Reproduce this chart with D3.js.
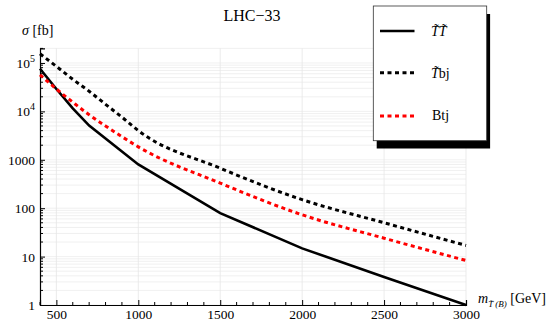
<!DOCTYPE html>
<html>
<head>
<meta charset="utf-8">
<script src="https://cdn.jsdelivr.net/npm/d3@7"></script>
<style>
  body { margin: 0; background: #fff; }
  svg text { font-family: "Liberation Serif", "DejaVu Serif", serif; }
</style>
</head>
<body>
<svg id="chart" width="548" height="324"></svg>
<script>
// masses (GeV) and cross sections (fb)
const massTT = [400, 500, 600, 700, 1000, 1500, 2000, 2500, 3000];
const sigmaTT = [76000, 29000, 11500, 5100, 800, 79, 14.8, 3.8, 1.0];

const massSingle = [400, 500, 600, 700, 800, 900, 1000, 1500, 2000, 2500, 3000];
const sigmaTbj = [155000, 85000, 46000, 26000, 14000, 7600, 4000, 670, 150, 50, 17];
const sigmaBtj = [57000, 29000, 15500, 8500, 5000, 3000, 1850, 330, 73, 24, 8.3];

const xTicks = [500, 1000, 1500, 2000, 2500, 3000];
const yTicks = [1, 10, 100, 1000, 1e4, 1e5];

const svg = d3.select("#chart");
const plotLeft = 40, plotRight = 466, plotTop = 48.4, plotBottom = 305;

const x = d3.scaleLinear().domain([400, 3000]).range([plotLeft, plotRight]);
const y = d3.scaleLog().domain([1, 2e5]).range([plotBottom, plotTop]);

// grid
const grid = svg.append("g");
const minorY = [];
for (let e = 0; e <= 5; e++) {
  for (let k = 1; k <= 9; k++) {
    const v = k * Math.pow(10, e);
    if (v <= 2e5) minorY.push(v);
  }
}
grid.selectAll("line.hy")
  .data(minorY)
  .enter()
  .append("line")
  .attr("x1", plotLeft).attr("x2", plotRight)
  .attr("y1", d => y(d)).attr("y2", d => y(d))
  .attr("stroke", "#ececec")
  .attr("stroke-width", 0.8);
grid.selectAll("line.vx")
  .data(xTicks)
  .enter()
  .append("line")
  .attr("x1", d => x(d)).attr("x2", d => x(d))
  .attr("y1", plotTop).attr("y2", plotBottom)
  .attr("stroke", "#e6e6e6")
  .attr("stroke-width", 0.8);

// axes
const minorX = d3.range(400, 3001, 100).filter(d => d % 500 !== 0);
const xAxis = svg.append("g").attr("transform", "translate(0," + plotBottom + ")");
xAxis.call(d3.axisBottom(x).tickValues(xTicks).tickSize(-5).tickPadding(4).tickFormat(d3.format("d")));
xAxis.append("g").selectAll("line")
  .data(minorX)
  .enter()
  .append("line")
  .attr("x1", d => x(d)).attr("x2", d => x(d))
  .attr("y1", 0).attr("y2", -3)
  .attr("stroke", "#000");

const yAxis = svg.append("g").attr("transform", "translate(" + plotLeft + ",0)");
yAxis.call(d3.axisLeft(y).tickValues(yTicks).tickSize(-5).tickFormat(""));
yAxis.append("g").selectAll("line")
  .data(minorY.filter(d => !yTicks.includes(d)))
  .enter()
  .append("line")
  .attr("x1", 0).attr("x2", 3)
  .attr("y1", d => y(d)).attr("y2", d => y(d))
  .attr("stroke", "#000");

[xAxis, yAxis].forEach(a => {
  a.attr("font-family", null);
  a.select(".domain").attr("stroke-width", 1.2);
  a.selectAll("text").attr("font-size", 13.5).attr("fill", "#000");
});

// y tick labels (powers of ten from 10^4 up)
yTicks.forEach(v => {
  const t = svg.append("text")
    .attr("x", 35).attr("y", y(v) + 5)
    .attr("text-anchor", "end")
    .attr("font-size", 13.5);
  if (v >= 1e4) {
    t.append("tspan").text("10");
    t.append("tspan").attr("dy", -6).attr("font-size", 10).text(Math.round(Math.log10(v)));
  } else {
    t.text(v);
  }
});

// curves
const straight = d3.line().x(d => x(d[0])).y(d => y(d[1]));
const smooth = d3.line().x(d => x(d[0])).y(d => y(d[1])).curve(d3.curveMonotoneX);

svg.append("path")
  .datum(massTT.map((m, i) => [m, sigmaTT[i]]))
  .attr("d", straight)
  .attr("fill", "none").attr("stroke", "#000").attr("stroke-width", 2.6);

svg.append("path")
  .datum(massSingle.map((m, i) => [m, sigmaTbj[i]]))
  .attr("d", smooth)
  .attr("fill", "none").attr("stroke", "#000").attr("stroke-width", 3)
  .attr("stroke-dasharray", "4,3.5");

svg.append("path")
  .datum(massSingle.map((m, i) => [m, sigmaBtj[i]]))
  .attr("d", smooth)
  .attr("fill", "none").attr("stroke", "#ff0000").attr("stroke-width", 3)
  .attr("stroke-dasharray", "4,3.5");

// title and axis labels
svg.append("text").attr("x", 252).attr("y", 21).attr("text-anchor", "middle")
  .attr("font-size", 16).text("LHC\u221233");

const yl = svg.append("text").attr("x", 22).attr("y", 35).attr("font-size", 14);
yl.append("tspan").attr("font-style", "italic").text("\u03c3");
yl.append("tspan").text(" [fb]");

const xl = svg.append("text").attr("x", 478).attr("y", 303).attr("font-size", 14);
xl.append("tspan").attr("font-style", "italic").text("m");
xl.append("tspan").attr("font-size", 9).attr("dy", 4).attr("font-style", "italic").text("T\u0303 (B)");
xl.append("tspan").attr("dy", -4).text(" [GeV]");

// legend
const lg = svg.append("g");
lg.append("rect").attr("x", 376.7).attr("y", 14).attr("width", 113.4).attr("height", 134.5).attr("fill", "#000");
lg.append("rect").attr("x", 373.3).attr("y", 6).attr("width", 113.4).attr("height", 134.7)
  .attr("fill", "#fff").attr("stroke", "#333").attr("stroke-width", 0.8);

const legendItems = [
  { dash: null, color: "#000", y: 31 },
  { dash: "4,3.5", color: "#000", y: 72.7 },
  { dash: "4,3.5", color: "#ff0000", y: 116 }
];
legendItems.forEach(it => {
  lg.append("line").attr("x1", 380).attr("x2", 414.5).attr("y1", it.y).attr("y2", it.y)
    .attr("stroke", it.color).attr("stroke-width", it.dash ? 3 : 2.6)
    .attr("stroke-dasharray", it.dash);
});
lg.append("text").attr("x", 431).attr("y", 36).attr("font-size", 14).attr("font-style", "italic")
  .text("T\u0303T\u0303");
const l2 = lg.append("text").attr("x", 431).attr("y", 78).attr("font-size", 14);
l2.append("tspan").attr("font-style", "italic").text("T\u0303");
l2.append("tspan").text("bj");
lg.append("text").attr("x", 432).attr("y", 120).attr("font-size", 14).text("Btj");
</script>
</body>
</html>
